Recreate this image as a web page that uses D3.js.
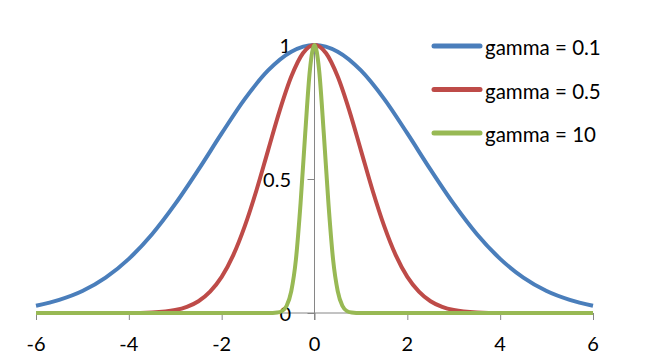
<!DOCTYPE html>
<html>
<head>
<meta charset="utf-8">
<script src="https://cdn.jsdelivr.net/npm/d3@7"></script>
<style>
  html, body { margin: 0; padding: 0; background: #fff; }
  svg text { font-family: Lato, "Open Sans", sans-serif; fill: #000; }
</style>
</head>
<body>
<svg id="chart" width="650" height="360"></svg>
<script>
// ---- data ----
const seriesNames = ["gamma = 0.1", "gamma = 0.5", "gamma = 10"];
const seriesColors = ["#4A7EBB", "#BE4B48", "#98B954"];

const blueX = [-6, -5.5, -5, -4.5, -4, -3.5, -3, -2.5, -2, -1.5, -1, -0.5, 0, 0.5, 1, 1.5, 2, 2.5, 3, 3.5, 4, 4.5, 5, 5.5, 6];
const blueY = [0.027, 0.049, 0.082, 0.132, 0.202, 0.294, 0.407, 0.535, 0.670, 0.799, 0.905, 0.975, 1, 0.975, 0.905, 0.799, 0.670, 0.535, 0.407, 0.294, 0.202, 0.132, 0.082, 0.049, 0.027];

const redX = [-6, -5, -4, -3.5, -3, -2.75, -2.5, -2.25, -2, -1.75, -1.5, -1.25, -1, -0.75, -0.5, -0.25, 0, 0.25, 0.5, 0.75, 1, 1.25, 1.5, 1.75, 2, 2.25, 2.5, 2.75, 3, 3.5, 4, 5, 6];
const redY = [0, 0, 0, 0.002, 0.011, 0.023, 0.044, 0.08, 0.135, 0.216, 0.325, 0.458, 0.607, 0.755, 0.882, 0.969, 1, 0.969, 0.882, 0.755, 0.607, 0.458, 0.325, 0.216, 0.135, 0.08, 0.044, 0.023, 0.011, 0.002, 0, 0, 0];

const greenX = [-6, -4, -2, -1, -0.8, -0.7, -0.6, -0.5, -0.4, -0.3, -0.2, -0.1, 0, 0.1, 0.2, 0.3, 0.4, 0.5, 0.6, 0.7, 0.8, 1, 2, 4, 6];
const greenY = [0, 0, 0, 0, 0.002, 0.007, 0.027, 0.082, 0.20, 0.41, 0.67, 0.905, 1, 0.905, 0.67, 0.41, 0.20, 0.082, 0.027, 0.007, 0.002, 0, 0, 0, 0];

const xTicks = [-6, -4, -2, 0, 2, 4, 6];
const xTickLabels = ["-6", "-4", "-2", "0", "2", "4", "6"];
const yTicks = [0, 0.5, 1];
const yTickLabels = ["0", "0.5", "1"];

// ---- chart ----
const svg = d3.select("#chart");
const x = d3.scaleLinear().domain([-6, 6]).range([36, 593]);
const y = d3.scaleLinear().domain([0, 1]).range([313, 45]);
const axisColor = "#868686";

// y axis at x = 0
const yAxis = d3.axisLeft(y).tickValues(yTicks).tickSize(7).tickFormat("");
const gy = svg.append("g").attr("transform", `translate(${x(0)},0)`).call(yAxis);
gy.select(".domain").attr("stroke", axisColor).attr("d", `M0,${y(1)}V${y(0) + 7}`);
gy.selectAll(".tick line").attr("stroke", axisColor);

// x axis at y = 0
const xAxis = d3.axisBottom(x).tickValues(xTicks).tickSize(7).tickFormat("");
const gx = svg.append("g").attr("transform", `translate(0,${y(0)})`).call(xAxis);
gx.select(".domain").attr("stroke", axisColor).attr("d", `M${x(-6)},0H${x(6)}`);
gx.selectAll(".tick line").attr("stroke", axisColor);

// tick labels
svg.append("g").selectAll("text").data(xTicks).join("text")
  .attr("x", d => x(d)).attr("y", 343)
  .attr("text-anchor", "middle").attr("dominant-baseline", "central")
  .attr("font-size", 20)
  .text((d, i) => xTickLabels[i]);

svg.append("g").selectAll("text").data(yTicks).join("text")
  .attr("x", 291).attr("y", d => y(d))
  .attr("text-anchor", "end").attr("dominant-baseline", "central")
  .attr("font-size", 20)
  .text((d, i) => yTickLabels[i]);

// lines
const line = d3.line().x(d => x(d[0])).y(d => y(d[1])).curve(d3.curveMonotoneX);
const series = [
  blueX.map((v, i) => [v, blueY[i]]),
  redX.map((v, i) => [v, redY[i]]),
  greenX.map((v, i) => [v, greenY[i]])
];
svg.append("g").selectAll("path").data(series).join("path")
  .attr("d", line)
  .attr("fill", "none")
  .attr("stroke", (d, i) => seriesColors[i])
  .attr("stroke-width", 4)
  .attr("stroke-linejoin", "round");

// legend
const legY = d3.scalePoint().domain(seriesNames).range([46, 133]);
const leg = svg.append("g").selectAll("g").data(seriesNames).join("g")
  .attr("transform", d => `translate(0,${legY(d)})`);
leg.append("line")
  .attr("x1", 434).attr("x2", 480).attr("y1", 0).attr("y2", 0)
  .attr("stroke", (d, i) => seriesColors[i])
  .attr("stroke-width", 5).attr("stroke-linecap", "round");
leg.append("text")
  .attr("x", 485).attr("y", 1)
  .attr("dominant-baseline", "central")
  .attr("font-size", 20.5)
  .text(d => d);
</script>
</body>
</html>
